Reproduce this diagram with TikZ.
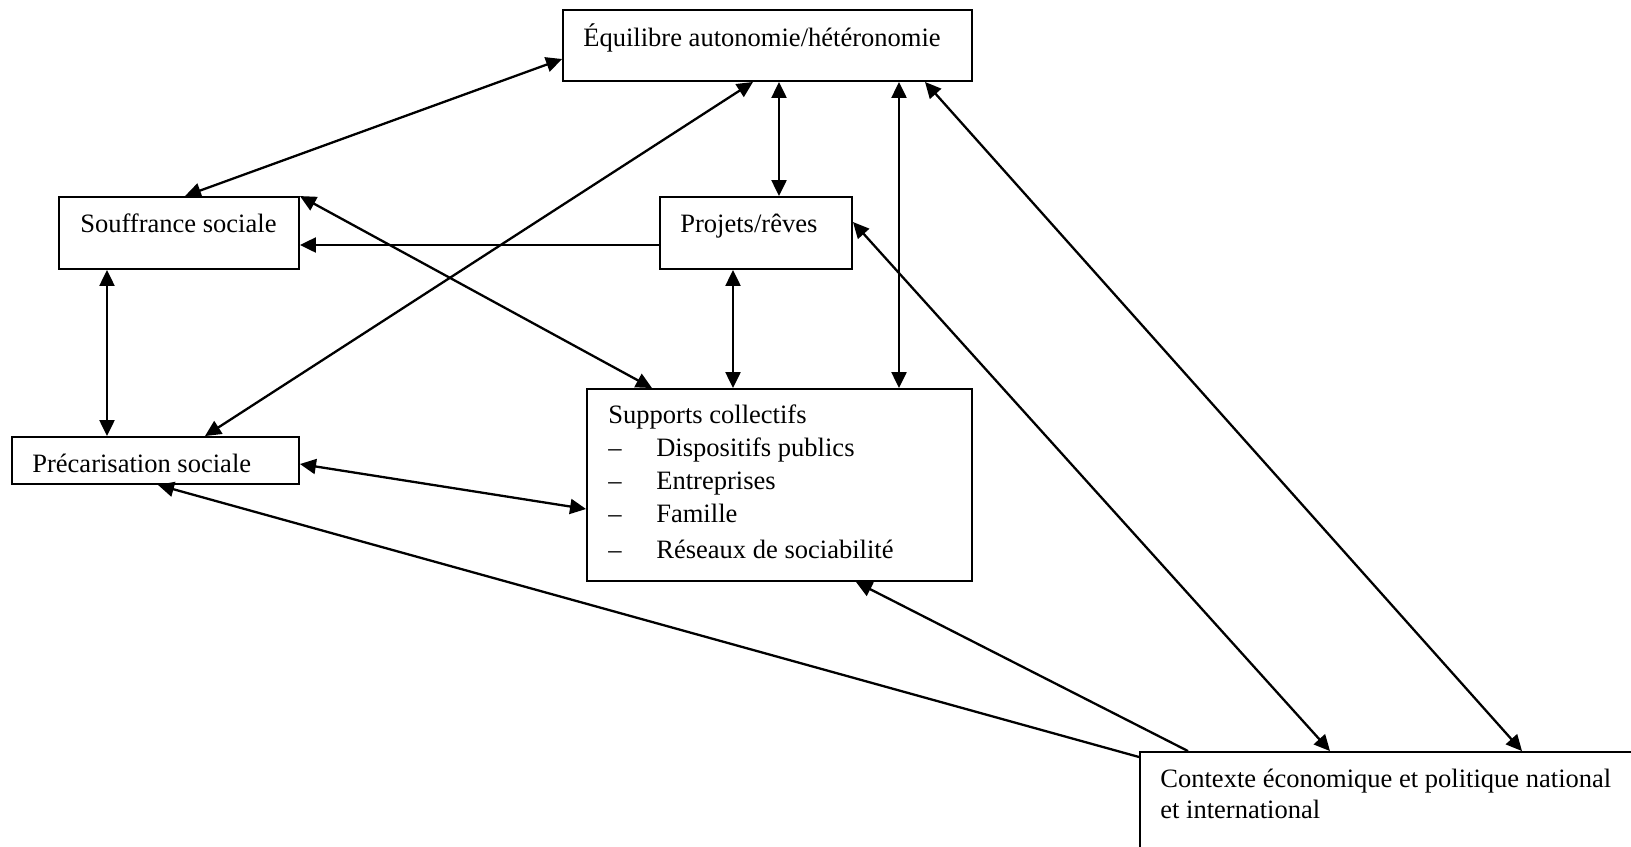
\documentclass[tikz,border=0pt]{standalone}
\usepackage{fontspec}
\setmainfont{Liberation Serif}
\usetikzlibrary{arrows.meta,fit}

\tikzset{
	boite/.style = {draw, line width=0.038cm, inner sep=0pt},
	texte/.style = {anchor=base west, inner sep=0pt, font=\fontsize{15.1}{18}\selectfont},
	fleche/.style = {line width=0.046cm, -{Triangle[length=0.32cm, width=0.3cm]}},
	dfleche/.style = {line width=0.046cm, {Triangle[length=0.32cm, width=0.3cm]}-{Triangle[length=0.32cm, width=0.3cm]}},
}

\begin{document}
\begin{tikzpicture}[x=0.02cm, y=-0.02cm]
		\clip (0,0) rectangle (1631,846);
		% boites
		\node [boite, fit={(563,10) (972,81)}] (equi) {};
		\node [boite, fit={(59,197) (299,269)}] (souf) {};
		\node [boite, fit={(660,197) (852,269)}] (proj) {};
		\node [boite, fit={(12,437) (299,484)}] (prec) {};
		\node [boite, fit={(587,389) (972,581)}] (supp) {};
		\node [boite, fit={(1140,752) (1700,900)}] (ctx) {};
		% textes
		\node [texte] (equi-t) at (583,46) {Équilibre autonomie/hétéronomie};
		\node [texte] (souf-t) at (80,232) {Souffrance sociale};
		\node [texte] (proj-t) at (680,232) {Projets/rêves};
		\node [texte] (prec-t) at (32,472) {Précarisation sociale};
		\node [texte] (supp-t) at (608,423) {Supports collectifs};
		\node [texte] (supp-a) at (608,456) {\makebox[0.96cm][l]{--}Dispositifs publics};
		\node [texte] (supp-b) at (608,489) {\makebox[0.96cm][l]{--}Entreprises};
		\node [texte] (supp-c) at (608,522) {\makebox[0.96cm][l]{--}Famille};
		\node [texte] (supp-d) at (608,558) {\makebox[0.96cm][l]{--}Réseaux de sociabilité};
		\node [texte] (ctx-a) at (1160,787) {Contexte économique et politique national};
		\node [texte] (ctx-b) at (1160,818) {et international};
		% fleches
		\draw [dfleche] (souf.north -| 185,0) -- (equi.west |- 0,59);
		\draw [dfleche] (prec.north -| 205,0) -- (equi.south -| 753,0);
		\draw [dfleche] (equi.south -| 779,0) -- (proj.north -| 779,0);
		\draw [dfleche] (equi.south -| 899,0) -- (supp.north -| 899,0);
		\draw [dfleche] (equi.south -| 925,0) -- (ctx.north -| 1522,0);
		\draw [dfleche] (proj.east |- 0,222) -- (ctx.north -| 1330,0);
		\draw [fleche] (proj.west |- 0,245) -- (souf.east |- 0,245);
		\draw [dfleche] (souf.north east) -- (supp.north -| 652,0);
		\draw [dfleche] (proj.south -| 733,0) -- (supp.north -| 733,0);
		\draw [dfleche] (souf.south -| 107,0) -- (prec.north -| 107,0);
		\draw [dfleche] (prec.east |- 0,464) -- (supp.west |- 0,509);
		\draw [fleche] (ctx.north -| 1188,0) -- (supp.south -| 856,0);
		\draw [fleche] (ctx.west |- 0,757) -- (prec.south -| 158,0);
	\end{tikzpicture}
\end{document}
